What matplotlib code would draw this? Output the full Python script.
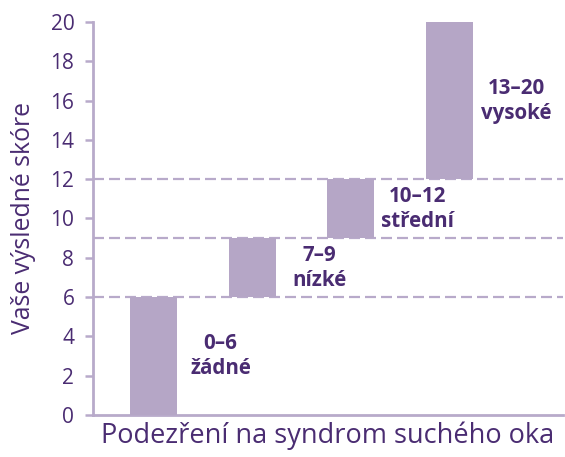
import matplotlib
matplotlib.use("Agg")
import matplotlib.pyplot as plt

categories = ["žádné", "nízké", "střední", "vysoké"]
ranges = ["0–6", "7–9", "10–12", "13–20"]
bottoms = [0, 6, 9, 12]
tops = [6, 9, 12, 20]
thresholds = [6, 9, 12]
yticks = list(range(0, 21, 2))

bar_color = "#b5a6c6"
line_color = "#b8aaca"
text_color = "#4a2c72"

plt.rcParams['font.family'] = ['Open Sans', 'DejaVu Sans']

fig = plt.figure(figsize=(5.65, 4.57), dpi=100)
ax = fig.add_axes([93/565, 42/457, (563-93)/565, (415-22)/457])

x = list(range(len(categories)))
heights = [t - b for t, b in zip(tops, bottoms)]
ax.bar(x, heights, bottom=bottoms, width=0.476, color=bar_color, zorder=3)

for th in thresholds:
    ax.axhline(th, color=line_color, lw=1.6, ls=(0, (4.95, 2.25)), zorder=2)

for i, (r, c) in enumerate(zip(ranges, categories)):
    ymid = (bottoms[i] + tops[i]) / 2
    ax.text(i + 0.68, ymid, f"{r}\n{c}", ha="center", va="center",
            fontsize=14.8, fontweight="bold", color=text_color, linespacing=1.25)

ax.set_xlim(-0.613, 4.15)
ax.set_ylim(0, 20)
ax.set_yticks(yticks)
ax.set_xticks([])
ax.tick_params(axis='y', colors=line_color, labelcolor=text_color, labelsize=15,
               length=6, width=1.8, pad=7.5)
for s in ["top", "right"]:
    ax.spines[s].set_visible(False)
for s in ["left", "bottom"]:
    ax.spines[s].set_color(line_color)
    ax.spines[s].set_linewidth(2)

ax.set_ylabel("Vaše výsledné skóre", fontsize=17.8, color=text_color, labelpad=10)
ax.set_xlabel("Podezření na syndrom suchého oka", fontsize=19.5, color=text_color, labelpad=5)

fig.savefig("out.png", dpi=100)
